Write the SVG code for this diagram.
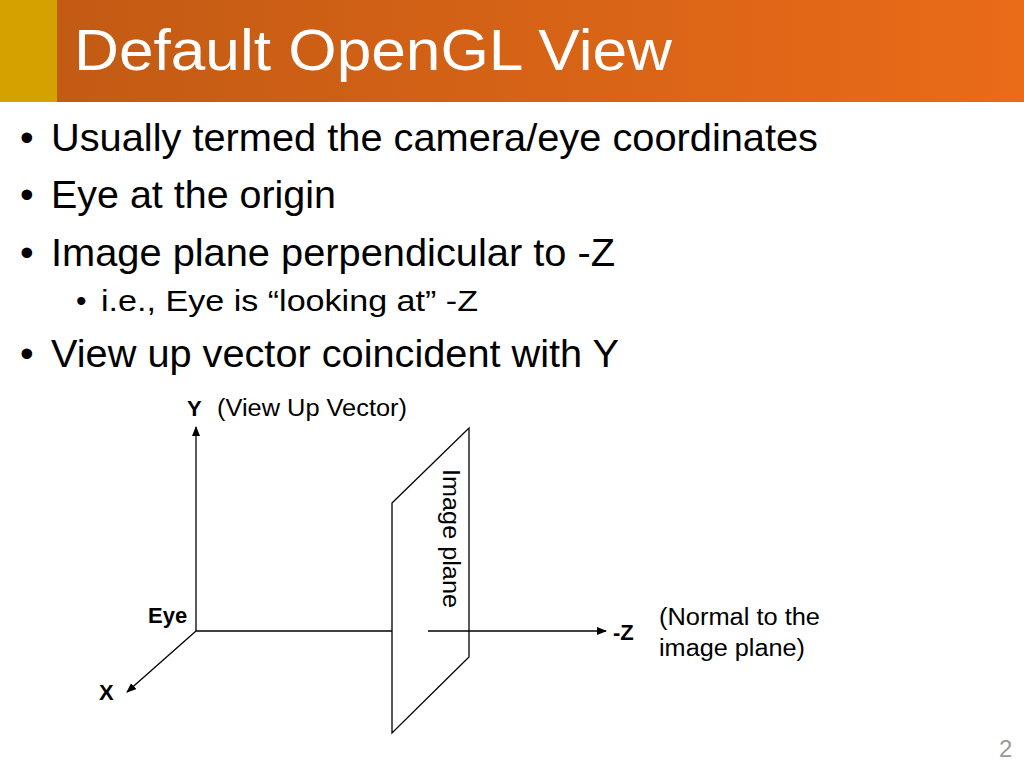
<svg xmlns="http://www.w3.org/2000/svg" width="1024" height="768" viewBox="0 0 1024 768">
<defs>
<linearGradient id="hg" x1="0" y1="0" x2="1" y2="0"><stop offset="0" stop-color="#c05a14"/><stop offset="1" stop-color="#ea6b18"/></linearGradient>
<marker id="ar" markerWidth="10" markerHeight="8" refX="9" refY="4" orient="auto" markerUnits="userSpaceOnUse"><path d="M0,0 L10,4 L0,8 z" fill="#000"/></marker>
<style>
.t{font-family:"Liberation Sans",Arial,sans-serif;fill:#000}
.b{font-size:39px}.s{font-size:30px}.d{font-size:23px}.l{font-size:22px;font-weight:bold}
.ln{stroke:#000;stroke-width:1.3;fill:none}
</style>
</defs>
<rect width="1024" height="768" fill="#fff"/>
<rect x="0" y="0" width="1024" height="102" fill="url(#hg)"/>
<rect x="0" y="0" width="57" height="102" fill="#d5a100"/>
<text x="74" y="70" font-family="Liberation Sans,Arial,sans-serif" font-size="58" fill="#fff" textLength="598" lengthAdjust="spacingAndGlyphs">Default OpenGL View</text>
<g class="t b">
<text x="20" y="151">•</text><text x="51" y="151" textLength="767" lengthAdjust="spacingAndGlyphs">Usually termed the camera/eye coordinates</text>
<text x="20" y="208">•</text><text x="51" y="208" textLength="285" lengthAdjust="spacingAndGlyphs">Eye at the origin</text>
<text x="20" y="266">•</text><text x="51" y="266" textLength="564" lengthAdjust="spacingAndGlyphs">Image plane perpendicular to -Z</text>
<text x="20" y="367">•</text><text x="51" y="367" textLength="568" lengthAdjust="spacingAndGlyphs">View up vector coincident with Y</text>
</g>
<g class="t s">
<text x="76" y="311">•</text><text x="101" y="311" textLength="377" lengthAdjust="spacingAndGlyphs">i.e., Eye is “looking at” -Z</text>
</g>
<g id="connectors">
<line class="ln" x1="196" y1="631" x2="196" y2="427" marker-end="url(#ar)"/>
<line class="ln" x1="196" y1="631" x2="392" y2="631"/>
<line class="ln" x1="428" y1="631" x2="606" y2="631" marker-end="url(#ar)"/>
<line class="ln" x1="196" y1="631" x2="127" y2="692" marker-end="url(#ar)"/>
</g>
<g id="plane">
<polygon class="ln" points="392,503 469,428 469,657 392,733"/>
<text class="t d" transform="translate(443,469) rotate(90)" textLength="139" lengthAdjust="spacingAndGlyphs">Image plane</text>
</g>
<g id="labels">
<text class="t l" x="187" y="416">Y</text>
<text class="t d" x="217" y="416" textLength="190" lengthAdjust="spacingAndGlyphs">(View Up Vector)</text>
<text class="t l" x="148" y="623">Eye</text>
<text class="t l" x="613" y="640">-Z</text>
<text class="t l" x="99" y="700">X</text>
<text class="t d" x="659" y="625" textLength="161" lengthAdjust="spacingAndGlyphs">(Normal to the</text>
<text class="t d" x="659" y="656" textLength="146" lengthAdjust="spacingAndGlyphs">image plane)</text>
</g>
<text x="999" y="757" font-family="Liberation Sans,Arial,sans-serif" font-size="24" fill="#999">2</text>
</svg>
